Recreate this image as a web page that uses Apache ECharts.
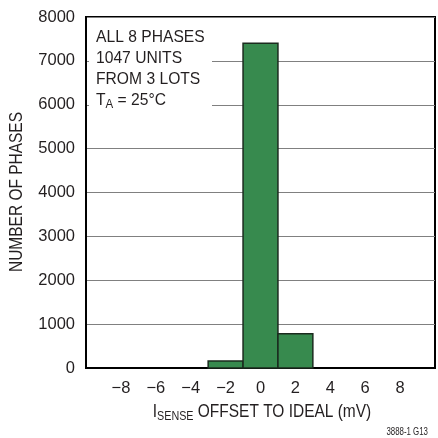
<!DOCTYPE html>
<html>
<head>
<meta charset="utf-8">
<script src="https://cdn.jsdelivr.net/npm/echarts@6/dist/echarts.min.js"></script>
<style>html,body{margin:0;padding:0;background:#fff}#c{width:438px;height:438px}</style>
</head>
<body>
<div id="c"></div>
<script>
// Data
const binCenters = [-8, -6, -4, -2, 0, 2, 4, 6, 8];
const phaseCounts = [0, 0, 0, 160, 7400, 780, 0, 0, 0];
const xTicks = [-8, -6, -4, -2, 0, 2, 4, 6, 8];
const yTicks = [0, 1000, 2000, 3000, 4000, 5000, 6000, 7000, 8000];
const noteLines = ['ALL 8 PHASES', '1047 UNITS', 'FROM 3 LOTS'];

const FONT = 'Liberation Sans, Arial, sans-serif';
const INK = '#231f20';
const chart = echarts.init(document.getElementById('c'), null, {renderer: 'canvas'});

const barData = binCenters.map((c, i) => [c, phaseCounts[i]]).filter(d => d[1] > 0);

const option = {
  animation: false,
  backgroundColor: '#fff',
  grid: {left: 86, right: 1, top: 17, bottom: 70, show: true, borderColor: '#000', borderWidth: 2, backgroundColor: 'transparent'},
  xAxis: {
    type: 'value', min: -10, max: 10, interval: 2,
    axisLine: {show: true, onZero: false, lineStyle: {color: '#000', width: 2}},
    axisTick: {show: false},
    splitLine: {show: false},
    axisLabel: {
      margin: 12, fontFamily: FONT, fontSize: 16.5, color: INK,
      formatter: v => (xTicks.indexOf(v) < 0 ? '' : (v < 0 ? '\u2212' + (-v) : String(v)))
    }
  },
  yAxis: {
    type: 'value', min: 0, max: 8000, interval: 1000,
    axisLine: {show: true, onZero: false, lineStyle: {color: '#000', width: 2}},
    axisTick: {show: false},
    splitLine: {show: true, lineStyle: {color: '#808080', width: 1}},
    axisLabel: {
      margin: 11, fontFamily: FONT, fontSize: 16.5, color: INK,
      formatter: v => (yTicks.indexOf(v) < 0 ? '' : String(v))
    }
  },
  series: [{
    type: 'custom',
    data: barData,
    z: 5,
    renderItem: function (params, api) {
      const c = api.value(0), v = api.value(1);
      const p0 = api.coord([c - 1, v]);
      const p1 = api.coord([c + 1, 0]);
      return {
        type: 'rect',
        shape: {x: p0[0], y: p0[1], width: p1[0] - p0[0], height: p1[1] - p0[1]},
        style: {fill: '#378a4e', stroke: '#1b2b1e', lineWidth: 1.5}
      };
    }
  }],
  graphic: [
    {type: 'rect', x: 89, y: 19, shape: {width: 123, height: 108}, style: {fill: '#fff'}, z: 3},
    {type: 'text', x: 96, y: 27, scaleX: 0.92, z: 4, style: {
      text: noteLines.join('\n'), font: '17px ' + FONT, fill: INK, lineHeight: 21
    }},
    {type: 'text', x: 96, y: 90, scaleX: 0.92, z: 4, style: {
      text: '{n|T}{s|A}{n| = 25°C}', fill: INK,
      rich: {
        n: {fontFamily: FONT, fontSize: 17, lineHeight: 21, fill: INK},
        s: {fontFamily: FONT, fontSize: 12.5, lineHeight: 21, fill: INK, padding: [9, 0, 0, 0]}
      }
    }},
    {type: 'text', x: 17, y: 192, rotation: Math.PI / 2, scaleX: 0.86, z: 4, style: {
      text: 'NUMBER OF PHASES', font: '18px ' + FONT, fill: INK, align: 'center', verticalAlign: 'middle'
    }},
    {type: 'text', x: 262, y: 412, scaleX: 0.86, z: 4, style: {
      text: '{n|I}{s|SENSE}{n| OFFSET TO IDEAL (mV)}', align: 'center', verticalAlign: 'middle', fill: INK,
      rich: {
        n: {fontFamily: FONT, fontSize: 18, lineHeight: 22, fill: INK},
        s: {fontFamily: FONT, fontSize: 12.5, lineHeight: 22, fill: INK, padding: [9, 0, 0, 0]}
      }
    }},
    {type: 'text', x: 428, y: 432, scaleX: 0.75, z: 4, style: {
      text: '3888-1 G13', font: '10.5px ' + FONT, fill: INK, align: 'right', verticalAlign: 'middle'
    }}
  ]
};
chart.setOption(option);
</script>
</body>
</html>
